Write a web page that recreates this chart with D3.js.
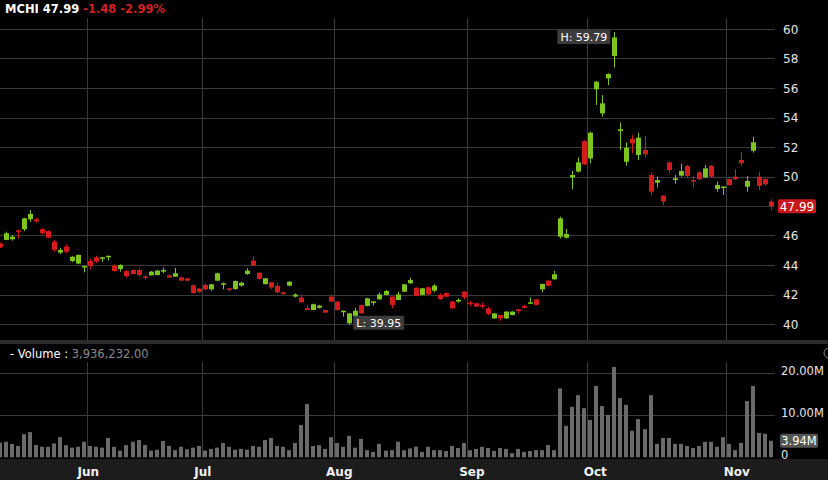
<!DOCTYPE html>
<html>
<head>
<meta charset="utf-8">
<script src="https://cdn.jsdelivr.net/npm/d3@7"></script>
<style>
  body { margin: 0; background: #000; }
  svg { display: block; }
  text { font-family: "DejaVu Sans", Verdana, sans-serif; }
</style>
</head>
<body>
<svg id="chart"></svg>
<script>
// MCHI daily candles, index 0 = first session shown
const opens = [45.47,45.70,45.74,46.35,46.42,47.10,47.10,46.42,46.30,45.58,44.84,45.24,44.27,44.10,43.86,44.27,44.52,44.46,44.56,43.95,43.73,43.59,43.66,43.66,43.22,43.30,43.32,43.55,43.30,43.21,43.16,43.10,42.62,42.40,42.65,42.35,42.94,42.70,42.42,42.37,42.60,43.39,44.30,43.48,42.70,42.83,42.58,42.15,42.60,41.86,41.79,41.07,40.95,41.10,40.95,41.86,41.52,40.85,40.05,40.50,41.29,41.23,41.48,41.67,41.97,41.85,41.63,42.19,42.76,42.46,41.97,42.49,42.26,41.97,42.10,41.52,41.52,42.19,41.45,41.40,41.29,41.06,40.38,40.61,40.38,40.61,41.00,41.22,41.43,41.67,42.35,42.94,43.03,45.92,45.85,49.94,50.33,52.40,51.23,55.91,54.28,56.65,58.17,53.08,51.00,52.54,51.46,51.80,50.10,49.58,48.70,50.96,49.76,50.06,50.71,49.76,50.28,49.94,50.73,49.15,49.27,49.83,49.99,51.12,49.31,51.75,49.99,49.83,48.30];
const closes = [45.20,46.15,45.92,46.25,47.16,47.46,46.96,46.15,45.85,45.02,45.02,44.90,44.56,44.68,43.93,43.95,44.23,44.52,44.62,43.59,44.00,43.25,43.39,43.32,43.17,43.55,43.62,43.66,43.14,43.44,42.94,42.94,42.10,42.18,42.35,42.69,43.44,42.76,42.31,42.92,42.80,43.62,43.96,43.05,43.10,42.47,42.15,42.02,42.87,42.00,41.47,40.95,41.34,41.25,40.77,41.52,40.95,40.90,40.72,40.90,40.72,41.74,41.53,42.01,42.24,41.29,42.01,42.69,42.98,41.90,42.42,42.01,42.60,41.70,41.85,41.06,41.63,41.81,41.34,41.18,41.18,40.68,40.72,40.38,40.84,40.84,40.88,41.10,41.47,41.29,42.71,42.58,43.37,47.16,46.10,50.10,50.96,50.82,52.97,56.43,54.96,56.95,59.43,53.20,51.95,52.25,52.63,51.50,48.97,49.76,48.30,50.44,49.88,50.37,50.04,49.65,49.81,50.55,49.99,49.43,49.32,49.42,49.81,50.90,49.70,52.32,49.36,49.47,47.99];
const highs = [45.52,46.26,46.03,46.38,47.20,47.73,47.20,46.50,46.35,45.70,45.16,45.40,44.60,44.72,43.95,44.40,44.63,44.55,44.65,44.05,44.05,43.66,43.70,43.77,43.32,43.60,43.66,43.82,43.35,43.80,43.20,43.10,42.70,42.45,42.76,42.72,43.48,42.82,42.44,42.95,42.86,43.78,44.57,43.50,43.12,42.86,42.80,42.18,42.90,42.08,41.97,41.29,41.38,41.30,40.97,41.97,41.55,40.92,40.75,41.10,41.30,41.78,41.55,42.15,42.30,41.88,42.19,42.72,43.14,42.48,42.45,42.52,42.71,42.08,42.12,41.55,41.74,42.21,41.58,41.42,41.45,41.17,40.75,40.63,40.87,40.86,41.02,41.30,41.80,41.69,42.74,42.96,43.60,47.27,46.44,50.37,51.30,52.47,53.04,56.45,55.52,57.00,59.79,53.67,52.31,52.81,52.97,52.74,50.28,50.00,48.72,51.00,50.10,50.85,50.78,50.06,50.40,50.78,50.78,49.65,49.33,49.88,50.49,51.64,50.03,52.70,50.33,49.86,48.45];
const lows = [45.15,45.68,45.65,45.80,46.30,46.93,46.86,46.08,45.80,44.90,44.75,44.80,44.20,44.05,43.50,43.70,44.15,44.22,44.30,43.55,43.55,43.15,43.35,43.22,43.00,43.28,43.30,43.44,43.12,43.19,42.90,42.87,42.05,42.12,42.26,42.26,42.90,42.35,42.20,42.33,42.53,43.33,43.95,43.00,42.68,42.36,42.08,42.00,42.55,41.80,41.47,40.95,40.92,41.05,40.75,41.47,40.90,40.50,39.95,40.40,40.68,41.20,41.25,41.65,41.95,41.06,41.61,42.17,42.72,41.88,41.95,41.99,42.15,41.63,41.83,41.03,41.45,41.67,41.22,41.16,41.06,40.61,40.36,40.22,40.35,40.59,40.72,41.05,41.42,41.27,42.15,42.56,43.01,45.80,45.80,49.13,50.28,50.78,50.90,54.85,54.05,56.20,57.40,51.80,50.73,51.57,51.12,51.28,48.74,49.25,48.05,50.26,49.50,49.99,49.92,49.27,49.77,49.88,49.92,48.97,48.75,49.36,49.76,50.71,48.97,51.62,49.09,49.36,47.73];
// volume in millions
const volumes = [3.5,3.7,3.2,2.7,5.5,6.0,2.9,2.5,2.5,3.3,4.8,2.9,2.3,2.5,3.7,2.7,2.5,2.3,4.6,2.5,1.6,2.9,3.7,4.1,2.9,1.6,1.8,3.9,2.7,1.7,2.5,1.9,2.3,2.7,1.6,2.0,2.3,3.4,2.5,1.8,2.0,1.8,2.7,2.5,4.1,4.6,2.7,2.5,1.7,3.4,7.7,12.7,2.7,2.9,2.0,4.8,3.4,2.5,5.1,2.3,4.4,1.7,1.3,3.2,1.6,1.7,3.7,1.7,2.1,2.5,1.3,2.5,1.7,1.7,1.5,2.7,2.2,3.4,1.7,2.0,2.5,2.2,1.5,2.2,2.0,1.0,2.0,1.3,1.5,1.7,1.7,2.9,1.7,16.4,7.5,12.0,14.8,11.7,8.9,17.0,12.2,10.1,21.5,14.1,12.5,6.3,9.1,6.7,14.8,3.2,4.6,4.6,3.2,3.2,2.7,2.2,2.7,3.7,3.7,2.5,4.8,3.2,1.7,3.4,13.4,17.0,5.8,5.6,3.94];
const monthLabels = ["Jun", "Jul", "Aug", "Sep", "Oct", "Nov"];
const monthStarts = [15, 34, 56, 78, 98, 121]; // index of first session of each month
const priceTicks = [40, 42, 44, 46, 48, 50, 52, 54, 56, 58, 60];
const volumeTicks = [0, 10, 20];

const W = 828, H = 480;
const svg = d3.select("#chart").attr("width", W).attr("height", H);

const x = d3.scaleLinear().domain([0, 128]).range([0, 771]);
const y = d3.scaleLinear().domain([40, 60]).range([324, 29]);
const yv = d3.scaleLinear().domain([0, 20]).range([457.3, 373.3]);
const plotRight = 775;
const up = "#7ec41e", down = "#d41c1c", grid = "#3a3a3a";
const labelNudge = [1, 1, 5, 5, 8, 11];

const candles = opens.map((o, i) => ({ i, o, c: closes[i], h: highs[i], l: lows[i], v: volumes[i] }));
const last = candles[candles.length - 1];

// panel separators / bottom band
svg.append("rect").attr("x", 0).attr("y", 340).attr("width", W).attr("height", 4).attr("fill", "#2a2a2a");
svg.append("rect").attr("x", 0).attr("y", 459).attr("width", W).attr("height", 21).attr("fill", "#1c1c1c");

// horizontal grid
svg.append("g").selectAll("line").data(priceTicks).join("line")
  .attr("x1", 0).attr("x2", plotRight)
  .attr("y1", d => Math.round(y(d)) + 0.5).attr("y2", d => Math.round(y(d)) + 0.5)
  .attr("stroke", grid);
svg.append("g").selectAll("line").data(volumeTicks.slice(1)).join("line")
  .attr("x1", 0).attr("x2", plotRight)
  .attr("y1", d => Math.round(yv(d)) + 0.5).attr("y2", d => Math.round(yv(d)) + 0.5)
  .attr("stroke", grid);

// vertical month grid
const vx = [-0.5, ...monthStarts.map(d => d - 0.5)];
const gx = d => Math.round(x(d)) + 0.5;
svg.append("g").selectAll("line").data(vx).join("line")
  .attr("x1", gx).attr("x2", gx).attr("y1", 18).attr("y2", 340).attr("stroke", grid);
svg.append("g").selectAll("line").data(vx).join("line")
  .attr("x1", gx).attr("x2", gx).attr("y1", 362).attr("y2", 458).attr("stroke", grid);

// candles
const cg = svg.append("g");
cg.selectAll("line").data(candles).join("line")
  .attr("x1", d => Math.round(x(d.i)) + 0.5).attr("x2", d => Math.round(x(d.i)) + 0.5)
  .attr("y1", d => y(d.h)).attr("y2", d => y(d.l))
  .attr("stroke", d => d.c >= d.o ? up : down);
cg.selectAll("rect").data(candles).join("rect")
  .attr("x", d => Math.round(x(d.i)) - 2).attr("width", 5)
  .attr("y", d => y(Math.max(d.o, d.c)))
  .attr("height", d => Math.max(1.5, Math.abs(y(d.o) - y(d.c))))
  .attr("fill", d => d.c >= d.o ? up : down);

// volume bars
svg.append("g").selectAll("rect").data(candles).join("rect")
  .attr("x", d => Math.round(x(d.i)) - 2).attr("width", 4)
  .attr("y", d => yv(d.v)).attr("height", d => yv(0) - yv(d.v))
  .attr("fill", "#6a6a6a");

// right axes (tick hidden behind the last-price tag is skipped)
svg.append("g").selectAll("text").data(priceTicks.filter(d => Math.abs(y(d) - y(last.c)) > 10)).join("text")
  .attr("x", 783).attr("y", d => y(d) + 4.5)
  .attr("fill", "#e6e6e6").attr("font-size", 12).text(d => d);
svg.append("g").selectAll("text").data(volumeTicks).join("text")
  .attr("x", 781).attr("y", d => yv(d) + 2)
  .attr("fill", "#e6e6e6").attr("font-size", 11.5)
  .text(d => d === 0 ? "0" : d3.format(".2f")(d) + "M");

// last price / volume tags
svg.append("rect").attr("x", 778).attr("y", y(last.c) - 7).attr("width", 38).attr("height", 14).attr("rx", 2).attr("fill", "#c8181c");
svg.append("text").attr("x", 797).attr("y", y(last.c) + 4.5).attr("text-anchor", "middle")
  .attr("fill", "#fff").attr("font-size", 12).text(last.c.toFixed(2));
svg.append("rect").attr("x", 780).attr("y", yv(last.v) - 7).attr("width", 38).attr("height", 14).attr("rx", 2).attr("fill", "#555");
svg.append("text").attr("x", 799).attr("y", yv(last.v) + 4.5).attr("text-anchor", "middle")
  .attr("fill", "#fff").attr("font-size", 11.5).text(last.v.toFixed(2) + "M");

// high / low labels
const hiIdx = d3.maxIndex(highs), loIdx = d3.minIndex(lows);
function tag(tx, ty, label) {
  const g = svg.append("g");
  const t = g.append("text").attr("x", tx + 3).attr("y", ty + 4).attr("fill", "#fff").attr("font-size", 11).text(label);
  const w = t.node().getComputedTextLength() + 6;
  g.insert("rect", "text").attr("x", tx).attr("y", ty - 7).attr("width", w).attr("height", 14).attr("fill", "#3c3c3c");
}
tag(x(hiIdx) - 57, y(highs[hiIdx]) + 5, "H: " + highs[hiIdx].toFixed(2));
tag(x(loIdx) + 4, y(lows[loIdx]) - 2, "L: " + lows[loIdx].toFixed(2));

// month labels
svg.append("g").selectAll("text").data(monthLabels).join("text")
  .attr("x", (d, k) => x(monthStarts[k] - 0.5) + labelNudge[k]).attr("y", 476)
  .attr("text-anchor", "middle").attr("fill", "#f0f0f0")
  .attr("font-size", 12).attr("font-weight", "bold").text(d => d);

// header
const prev = closes[closes.length - 2];
const chg = last.c - prev;
const fmt = (f, v) => d3.format(f)(v).replace("\u2212", "-");
const hdr = svg.append("text").attr("x", 5).attr("y", 13).attr("font-size", 11.5).attr("font-weight", "bold");
hdr.append("tspan").attr("fill", "#fff").text("MCHI " + last.c.toFixed(2) + " ");
hdr.append("tspan").attr("fill", "#d42020").text(fmt("+.2f", chg) + " " + fmt("+.2%", chg / prev));

const vh = svg.append("text").attr("x", 10).attr("y", 358).attr("font-size", 11.5);
vh.append("tspan").attr("fill", "#fff").text("- Volume : ");
vh.append("tspan").attr("fill", "#8a8a8a").text(d3.format(",.2f")(3936232));
svg.append("circle").attr("cx", 829).attr("cy", 353).attr("r", 5).attr("fill", "none").attr("stroke", "#888");
</script>
</body>
</html>
